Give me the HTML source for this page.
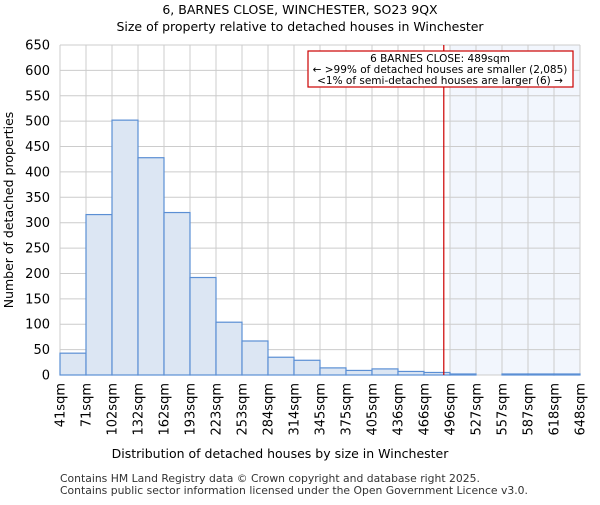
<!DOCTYPE html>
<html><head><meta charset="utf-8"><style>
body{margin:0;background:#fff;font-family:"Liberation Sans","DejaVu Sans",sans-serif}
svg text{font-family:"DejaVu Sans","Liberation Sans",sans-serif}
</style></head><body>
<svg id="c" width="600" height="500" xmlns="http://www.w3.org/2000/svg">
<text x="300" y="14" text-anchor="middle" font-size="12.5">6, BARNES CLOSE, WINCHESTER, SO23 9QX</text>
<text x="300" y="31" text-anchor="middle" font-size="12.5">Size of property relative to detached houses in Winchester</text>
<g id="plot"></g>
<text x="280" y="458" text-anchor="middle" font-size="12.5">Distribution of detached houses by size in Winchester</text>
<text transform="translate(13,210) rotate(-90)" text-anchor="middle" font-size="12.5">Number of detached properties</text>
<text x="60" y="482" font-size="10.8" fill="#333">Contains HM Land Registry data © Crown copyright and database right 2025.</text>
<text x="60" y="494" font-size="10.8" fill="#333">Contains public sector information licensed under the Open Government Licence v3.0.</text>
</svg>
<script>
const categories=["41sqm","71sqm","102sqm","132sqm","162sqm","193sqm","223sqm","253sqm","284sqm","314sqm","345sqm","375sqm","405sqm","436sqm","466sqm","496sqm","527sqm","557sqm","587sqm","618sqm","648sqm"];
const counts=[43,316,502,428,320,192,104,67,35,29,14,9,12,7,5,2,0,2,2,2];
const yTicks=[0,50,100,150,200,250,300,350,400,450,500,550,600,650];
const propertySize=489;
const binStart=41, binWidthSqm=30.35;
const L=60,R=580,T=45,B=375,yMax=650;
const bw=(R-L)/counts.length;
const y=v=>B-(v/yMax)*(B-T);
const xs=s=>L+(s-binStart)/binWidthSqm*bw;
const NS="http://www.w3.org/2000/svg";
const g=document.getElementById('plot');
function mk(t,a){const e=document.createElementNS(NS,t);for(const k in a)e.setAttribute(k,a[k]);g.appendChild(e);return e;}
const markX=xs(propertySize);
const shadeStart=L+Math.ceil((markX-L)/bw)*bw;
let e=mk('rect',{x:shadeStart,y:T,width:R-shadeStart,height:B-T,fill:'#f2f6fd'});


yTicks.forEach(v=>{
 let l=mk('line',{x1:L,x2:R,y1:y(v),y2:y(v),stroke:'#cccccc'});
 
 
 let t=mk('text',{x:L-10,y:y(v)+4.5,'text-anchor':'end','font-size':'13'});t.textContent=v;
 
 
});
categories.forEach((c,i)=>{
 const x=L+i*bw;
 let l=mk('line',{x1:x,x2:x,y1:T,y2:B,stroke:'#cccccc'});
 
 
 let t=mk('text',{transform:`translate(${x+4.5},${B+8}) rotate(-90)`,'text-anchor':'end','font-size':'13'});t.textContent=c;
 
 
});
counts.forEach((v,i)=>{
 const x=L+i*bw;
 let r=mk('rect',{x:x,y:y(v),width:bw,height:B-y(v),fill:x>=shadeStart?'#f2f6fd':'#dce6f3',stroke:'#5b8fd4','stroke-width':1.2});
 
 
});
let ln=mk('line',{x1:markX,x2:markX,y1:T,y2:B,stroke:'#cc0000','stroke-width':1.2});


let bx=mk('rect',{x:308,y:51,width:265,height:36,fill:'#fff',stroke:'#cc0000','stroke-width':1.2});


["6 BARNES CLOSE: 489sqm","← >99% of detached houses are smaller (2,085)","<1% of semi-detached houses are larger (6) →"].forEach((s,i)=>{
 let t=mk('text',{x:440,y:62+i*11,'text-anchor':'middle','font-size':'10.5'});t.textContent=s;
 
 
});
</script>
</body></html>
